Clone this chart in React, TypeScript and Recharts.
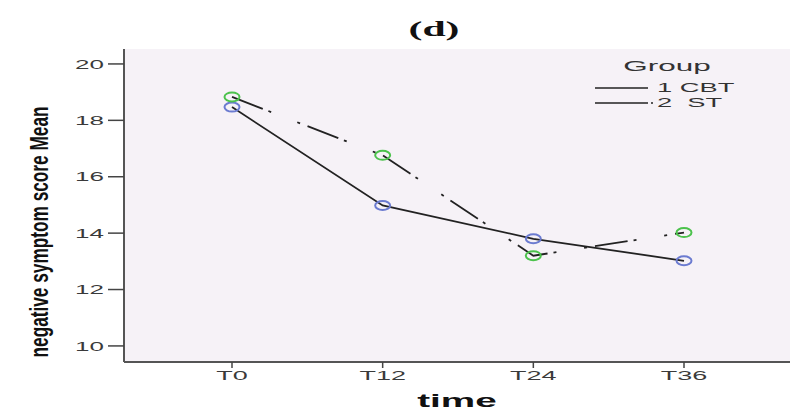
import { LineChart, Line, XAxis, YAxis, CartesianGrid, Legend } from 'recharts';

// values
const timePoints = ['T0', 'T12', 'T24', 'T36'];
const cbtMeans = [18.47, 14.98, 13.8, 13.02];
const stMeans = [18.83, 16.76, 13.2, 14.02];
const yTicks = [10, 12, 14, 16, 18, 20];

const data = timePoints.map((t, i) => ({ time: t, cbt: cbtMeans[i], st: stMeans[i] }));

const SANS = 'Liberation Sans, Arial, sans-serif';

// the source image is stretched horizontally, so text is scaled on x
const YTick = ({ x, y, payload }: any) => (
  <text
    transform={`translate(${x},${y}) scale(2,1)`}
    textAnchor="end"
    dominantBaseline="central"
    fontSize={13}
    fontFamily={SANS}
    fill="#3a3a3a"
  >
    {payload.value}
  </text>
);

const XTick = ({ x, y, payload }: any) => (
  <text
    transform={`translate(${x},${y}) scale(2,1)`}
    textAnchor="middle"
    dy="0.71em"
    fontSize={13.5}
    fontFamily={SANS}
    fill="#3a3a3a"
  >
    {payload.value}
  </text>
);

const YLabel = () => (
  <text
    transform="translate(39,232) scale(1.5,1) rotate(-90)"
    textAnchor="middle"
    dominantBaseline="central"
    fontSize={17}
    fontWeight="bold"
    fontFamily={SANS}
    textLength={251}
    lengthAdjust="spacingAndGlyphs"
    fill="#111"
  >
    negative symptom score Mean
  </text>
);

const XLabel = () => (
  <text
    transform="translate(457,401) scale(2.15,1)"
    textAnchor="middle"
    dominantBaseline="central"
    fontSize={18}
    fontWeight="bold"
    fontFamily={SANS}
    fill="#111"
  >
    time
  </text>
);

const ringDot = (color: string) => (props: any) => {
  const { cx, cy, index } = props;
  if (cx == null || cy == null) return null;
  return <ellipse key={index} cx={cx} cy={cy} rx={7.5} ry={4.5} fill="none" stroke={color} strokeWidth={2} />;
};

const GroupLegend = () => (
  <svg width={200} height={64}>
    <text x={107} y={16} transform="translate(107,16) scale(2.1,1) translate(-107,-16)" textAnchor="middle"
      dominantBaseline="central" fontSize={15} fontFamily={SANS} fill="#333">
      Group
    </text>
    <line x1={35} y1={38} x2={88} y2={38} stroke="#222" strokeWidth={1.5} />
    <line x1={35} y1={53} x2={88} y2={53} stroke="#222" strokeWidth={1.5} />
    <circle cx={92} cy={53} r={1} fill="#222" />
    <text transform="translate(97,38) scale(2.1,1)" dominantBaseline="central" fontSize={13}
      fontFamily={SANS} fill="#333">
      1 CBT
    </text>
    <text transform="translate(97,53) scale(2.1,1)" dominantBaseline="central" fontSize={13}
      fontFamily={SANS} fill="#333" style={{ whiteSpace: 'pre' }}>
      {'2  ST'}
    </text>
  </svg>
);

export default function App() {
  return (
    <div style={{ position: 'absolute', left: 0, top: 0, width: 792, height: 411, background: '#fff' }}>
      <svg width={792} height={50} style={{ position: 'absolute', left: 0, top: 0 }}>
        <text
          transform="translate(434,36) scale(1.9,1)"
          textAnchor="middle"
          fontSize={22}
          fontWeight="bold"
          fontFamily="Liberation Serif, Times New Roman, serif"
          fill="#111"
        >
          (d)
        </text>
      </svg>
      <LineChart width={792} height={411} data={data} margin={{ top: 49, right: 2, left: 0, bottom: 0 }}>
        <CartesianGrid fill="#F6F2F7" horizontal={false} vertical={false} />
        <XAxis
          dataKey="time"
          padding={{ left: 108, right: 106 }}
          height={49}
          tickSize={6}
          tickMargin={2}
          tick={<XTick />}
          axisLine={{ stroke: '#555', strokeWidth: 2 }}
          tickLine={{ stroke: '#444', strokeWidth: 1.5 }}
          label={{ content: <XLabel /> }}
        />
        <XAxis
          xAxisId="top"
          dataKey="time"
          orientation="top"
          height={0}
          tick={false}
          tickLine={false}
          axisLine={{ stroke: '#999', strokeWidth: 2 }}
        />
        <YAxis
          width={124}
          domain={[9.43, 20.53]}
          ticks={yTicks}
          interval={0}
          allowDataOverflow
          tickSize={16}
          tickMargin={4}
          tick={<YTick />}
          axisLine={{ stroke: '#555', strokeWidth: 2 }}
          tickLine={{ stroke: '#444', strokeWidth: 1.5 }}
          label={{ content: <YLabel /> }}
        />
        <YAxis
          yAxisId="right"
          orientation="right"
          width={0}
          tick={false}
          tickLine={false}
          axisLine={{ stroke: '#999', strokeWidth: 2 }}
        />
        <Legend
          layout="horizontal"
          verticalAlign="middle"
          align="center"
          content={<GroupLegend />}
          wrapperStyle={{ position: 'absolute', left: 560, top: 50, width: 200, height: 64 }}
        />
        <Line
          dataKey="cbt"
          stroke="#222"
          strokeWidth={1.8}
          dot={ringDot('#6B7BD0')}
          activeDot={false}
          isAnimationActive={false}
        />
        <Line
          dataKey="st"
          stroke="#222"
          strokeWidth={1.8}
          strokeDasharray="33 6 3 28 3 8"
          dot={ringDot('#4CC24C')}
          activeDot={false}
          isAnimationActive={false}
        />
      </LineChart>
    </div>
  );
}
